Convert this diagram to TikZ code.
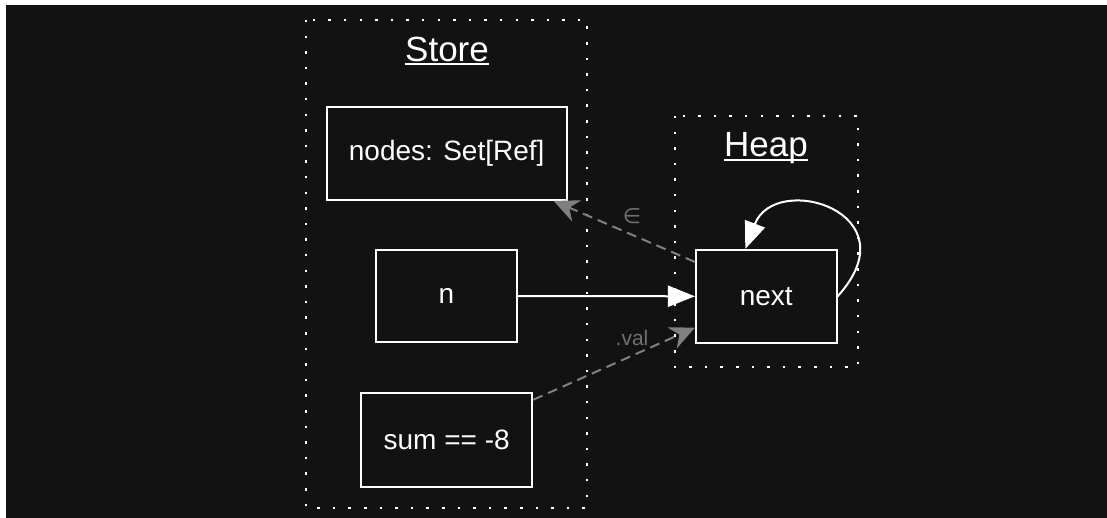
\documentclass[tikz,border=0pt]{standalone}
\usepackage{fontspec}
\setmainfont{Liberation Sans}
\newfontfamily\symbolfont{DejaVu Sans}
\usetikzlibrary{arrows.meta}
\definecolor{canvas}{HTML}{121212}
\definecolor{linkgrey}{HTML}{808080}
\definecolor{labelgrey}{HTML}{707070}
\tikzset{
  x=1pt, y=-1pt,
  cell/.style={draw=white, line width=2pt, fill=canvas, inner sep=0pt,
    font=\fontsize{28}{32}\selectfont, text=white},
  region/.style={draw=white, line width=2.5pt, dash pattern=on 2.5pt off 13.1pt},
  title/.style={inner sep=0pt, anchor=base, font=\fontsize{35}{40}\selectfont, text=white},
  titleline/.style={draw=white, line width=2pt},
  pointer/.style={draw=white, line width=2pt, -{Triangle[length=27pt,width=21pt]}},
  relation/.style={draw=linkgrey, line width=2pt, dash pattern=on 10pt off 6pt,
    -{Stealth[length=25pt,width=23pt,inset=8pt]}},
  rellabel/.style={inner sep=0pt, text=labelgrey, font=\fontsize{21}{24}\selectfont},
}
\begin{document}
\begin{tikzpicture}
\useasboundingbox (0,0) rectangle (1107,518);
\fill[white] (0,0) rectangle (1107,518);
\fill[canvas] (6,5) rectangle (1107,518);

% regions
\draw[region] (306,20) rectangle (587,508);
\draw[region] (675,116) rectangle (858,367);

% region titles
\node[title] (storet) at (447,61.7) {Store};
\draw[titleline] ([yshift=-2.5pt]storet.base west) -- ([yshift=-2.5pt]storet.base east);
\node[title] (heapt) at (766,157) {Heap};
\draw[titleline] ([yshift=-3.5pt]heapt.base west) -- ([yshift=-3.5pt]heapt.base east);

% store cells
\node[cell, minimum width=240pt, minimum height=93.3pt] (nodes) at (446.7,153.3) {nodes: Set[Ref]};
\node[cell, minimum width=141pt, minimum height=92pt] (n) at (446.5,296) {n};
\node[cell, minimum width=171.3pt, minimum height=94pt] (sum) at (446.7,439.7) {sum == -8};

% heap cell
\node[cell, minimum width=140.7pt, minimum height=92.7pt] (next) at (766.3,296.3) {next};

% references
\draw[pointer] (n.east) -- (next.west);
\draw[pointer] (next.east) .. controls ([shift={(76pt,84pt)}]next.east)
  and ([shift={(9pt,78pt)}]next.north) .. ([xshift=-21pt]next.north);

\draw[relation] ([yshift=-13pt]next.north west) -- ([xshift=-14pt]nodes.south east);
\node[rellabel] (memb) at (632,216) {\symbolfont ∈};

\draw[relation] ([yshift=-8pt]sum.north east) -- ([yshift=16pt]next.south west);
\node[rellabel] (val) at (632,338) {.val};
\end{tikzpicture}
\end{document}
